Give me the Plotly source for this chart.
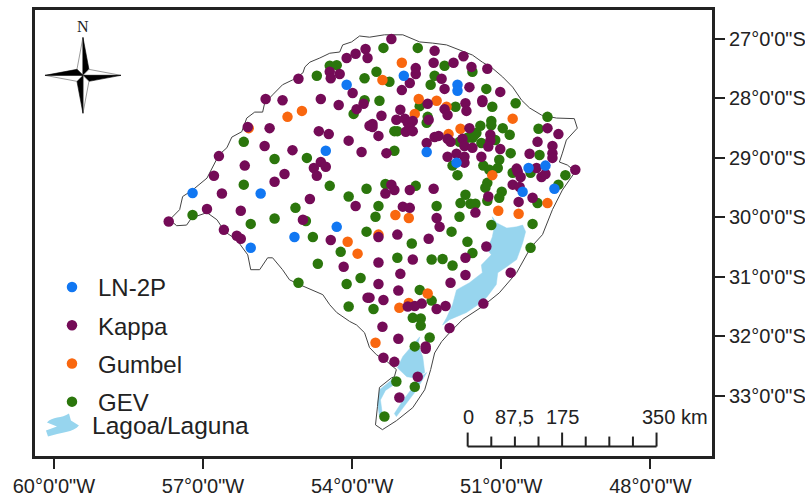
import plotly.graph_objects as go

# --- station values (longitude, latitude in decimal degrees) ---
lnp_lon = [-54.11,-54.53,-52.96,-51.88,-51.88,-52.50,-51.90,-50.45,-50.11,-57.21,-55.84,-54.31,-55.16,-56.04,-50.57,-49.93]
lnp_lat = [-27.77,-28.88,-27.62,-27.77,-27.87,-28.90,-29.08,-29.17,-29.13,-29.59,-29.60,-30.16,-30.33,-30.51,-29.57,-29.52]

gumbel_lon = [-56.08,-55.30,-55.01,-53.00,-53.39,-52.66,-52.30,-52.10,-52.74,-51.82,-52.06,-50.77,-54.09,-53.89,-53.13,-52.86,-51.18,-51.06,-50.65,-50.07,-52.48,-53.47,-53.05,-52.86,-53.53]
gumbel_lat = [-28.50,-28.31,-28.21,-27.40,-27.69,-28.01,-28.04,-28.14,-28.26,-28.51,-28.60,-28.34,-30.41,-30.61,-29.96,-30.01,-29.29,-29.89,-29.94,-29.76,-31.28,-30.29,-31.52,-31.44,-32.11]

gev_lon = [-56.18,-55.56,-54.91,-54.71,-54.45,-54.31,-53.75,-53.75,-53.97,-53.37,-52.68,-52.14,-51.58,-53.51,-53.25,-52.34,-52.42,-51.30,-53.45,-52.64,-51.92,-51.18,-50.71,-50.07,-50.25,-51.20,-51.20,-52.48,-52.50,-53.15,-53.09,-51.42,-51.50,-51.58,-51.84,-51.40,-51.12,-50.97,-50.83,-50.81,-50.23,-53.15,-51.04,-51.98,-51.36,-51.07,-51.24,-51.68,-51.54,
           -56.18,-54.45,-54.07,-53.71,-57.21,-56.04,-55.56,-55.14,-54.79,-54.23,-53.71,-54.69,-53.83,-54.11,-55.08,-54.07,-54.93,-53.33,-52.72,-53.47,-53.53,-52.30,-52.80,-53.09,-52.40,-52.18,-51.98,-52.00,-51.84,-51.72,-51.82,-51.62,-51.52,-51.68,-51.58,-51.20,-52.64,-52.40,-53.57,-50.41,-50.37,-50.27,-49.85,-49.71,-51.88,-51.28,-51.32,-50.99,-51.04,-51.28,-50.41,-50.77,-52.78,-52.62,-52.62,-52.44,-52.74,-53.11,-52.74,-53.35]
gev_lat = [-28.73,-29.02,-29.00,-27.62,-27.45,-27.44,-27.66,-28.03,-28.26,-27.15,-27.15,-27.45,-27.55,-27.55,-27.72,-27.62,-27.77,-27.84,-28.04,-28.13,-28.14,-28.14,-28.08,-28.31,-28.51,-28.38,-28.45,-28.31,-28.41,-28.55,-28.55,-28.46,-28.58,-28.66,-28.73,-28.75,-28.70,-28.50,-28.61,-28.92,-28.95,-28.88,-29.03,-29.13,-29.13,-29.17,-29.20,-28.66,-28.61,
           -29.45,-29.47,-29.65,-29.52,-29.96,-30.11,-30.02,-29.84,-30.33,-30.58,-30.24,-30.78,-31.02,-31.12,-31.10,-31.50,-30.06,-29.44,-29.47,-29.81,-29.99,-29.81,-30.44,-30.68,-30.71,-30.70,-30.81,-30.24,-29.99,-29.62,-29.76,-29.77,-29.77,-30.41,-30.60,-30.13,-31.22,-31.40,-31.54,-30.51,-30.11,-29.76,-29.45,-29.29,-29.29,-29.42,-29.50,-29.57,-29.67,-29.72,-29.25,-29.25,-31.69,-31.70,-31.82,-32.02,-32.17,-32.76,-32.85,-33.35]

kappa_lon = [-56.68,-56.10,-55.74,-55.40,-55.08,-55.66,-55.76,-55.20,-56.16,-54.63,-54.27,-54.67,-54.47,-54.07,-53.81,-54.11,-53.93,-53.73,-53.69,-54.45,-54.25,-54.43,-53.99,-53.91,-53.77,-53.65,-54.77,-54.63,-54.53,
             -53.21,-52.34,-52.36,-51.96,-51.76,-51.60,-51.28,-52.72,-52.72,-52.84,-53.00,-52.20,-52.14,-51.64,-51.02,-51.38,-51.38,-51.72,-51.70,-52.48,-52.14,-52.08,-53.03,-53.41,-53.11,-53.59,-53.59,-53.47,-52.94,-52.78,-52.88,-52.84,-52.92,-52.78,-52.46,-51.64,-52.50,-52.34,-52.26,-52.08,-52.02,-51.78,-51.74,-51.58,-51.22,-51.22,-51.26,-51.02,-50.43,-50.27,-50.07,-49.85,-49.97,-49.97,-49.97,-53.31,-52.08,-51.90,-51.74,-51.74,-51.40,-50.69,-50.29,-49.51,
             -56.78,-56.62,-56.92,-56.24,-57.69,-56.58,-56.32,-56.24,-55.56,-55.36,-54.71,-54.85,-53.93,-54.99,-54.43,-54.17,-53.69,
             -53.21,-53.15,-53.33,-52.84,-52.36,-52.98,-52.84,-51.52,-52.30,-52.24,-53.47,-53.09,-52.46,-51.30,-53.47,-52.78,-51.72,-53.03,-51.72,-50.81,-53.47,-53.07,-52.02,-53.65,-53.37,-51.36,-52.60,-52.74,-52.88,-52.30,-52.12,-51.26,-50.65,-50.37,-50.77,-50.63,-50.67,-50.61,-50.19,-50.11,
             -52.04,-53.39,-53.07,-52.52,-52.52,-53.37,-53.15,-52.68,-53.05]
kappa_lat = [-28.97,-28.48,-28.01,-28.03,-27.67,-28.50,-28.80,-28.87,-29.13,-28.01,-28.11,-28.55,-28.60,-28.71,-28.90,-27.32,-27.25,-27.17,-27.32,-27.55,-27.59,-27.66,-27.91,-28.18,-28.09,-28.46,-29.17,-29.07,-29.15,
             -27.00,-27.20,-27.40,-27.40,-27.29,-27.47,-27.50,-27.49,-27.59,-27.74,-27.86,-27.67,-27.84,-27.81,-27.89,-28.03,-28.06,-28.08,-28.21,-28.09,-28.18,-28.28,-28.19,-28.29,-28.36,-28.43,-28.48,-28.63,-28.34,-28.38,-28.41,-28.50,-28.56,-28.55,-28.36,-28.50,-28.75,-28.65,-28.63,-28.68,-28.73,-28.68,-28.80,-28.83,-28.61,-28.71,-28.81,-28.85,-28.93,-28.73,-28.50,-28.60,-28.80,-28.92,-29.00,-28.92,-28.98,-28.93,-28.98,-29.08,-28.98,-29.18,-29.17,-29.20,
             -29.30,-29.60,-29.86,-29.89,-30.07,-30.21,-30.31,-30.36,-29.40,-29.27,-29.30,-29.69,-29.81,-30.04,-30.38,-30.83,-31.35,
             -29.45,-29.54,-29.60,-29.54,-29.52,-29.82,-29.84,-29.92,-30.01,-30.16,-30.33,-30.29,-30.36,-30.49,-30.76,-30.71,-30.68,-30.95,-30.97,-30.93,-31.12,-31.23,-31.10,-31.35,-31.39,-31.45,-31.45,-31.49,-31.50,-31.54,-31.49,-29.65,-29.74,-29.67,-29.45,-29.49,-29.23,-29.32,-29.32,-29.27,
             -31.86,-31.84,-32.04,-32.17,-32.21,-32.36,-32.43,-32.68,-33.03]

border_lon = [-53.53,-53.39,-53.11,-52.78,-52.54,-52.42,-52.34,-52.20,-52.04,-51.78,-51.38,-51.04,-50.69,-50.41,-50.17,-49.97,-49.77,-49.59,-49.51,-49.67,-49.83,-49.77,-49.69,-49.47,-49.53,-49.89,-50.19,-50.43,-50.59,-50.77,-50.97,-51.18,-51.38,-51.58,-51.84,-52.10,-52.38,-52.64,-52.98,-53.19,-53.35,-53.65,-53.85,-54.01,-54.19,-54.25,-54.45,-54.65,-54.85,-54.95,-54.99,-55.20,-55.40,-55.60,-55.76,-55.80,-55.96,-56.12,-56.22,-56.42,-56.52,-56.68,-56.80,-56.92,-57.21,-57.41,-57.47,-57.67,-57.53,-57.33,-57.23,-56.92,-56.72,-56.56,-56.32,-56.10,-56.04,-55.86,-55.70,-55.60,-55.40,-55.26,-55.06,-54.79,-54.59,-54.45,-54.31,-54.05,-53.91,-53.75,-53.65,-53.51,-53.29,-53.11,-53.15,-53.21,-53.45,-53.49,-53.53]
border_lat = [-33.49,-33.57,-33.42,-33.20,-32.90,-32.56,-32.28,-32.09,-31.94,-31.72,-31.50,-31.27,-30.93,-30.51,-30.29,-29.87,-29.54,-29.32,-29.23,-29.12,-29.07,-28.92,-28.70,-28.50,-28.34,-28.33,-28.28,-28.16,-28.03,-27.81,-27.64,-27.49,-27.39,-27.27,-27.19,-27.10,-27.07,-27.05,-26.93,-26.93,-26.93,-26.97,-26.95,-27.05,-27.10,-27.22,-27.24,-27.32,-27.39,-27.47,-27.57,-27.69,-27.77,-27.94,-28.08,-28.23,-28.23,-28.33,-28.56,-28.65,-28.83,-28.95,-29.15,-29.34,-29.54,-29.65,-29.87,-30.04,-30.14,-30.13,-30.01,-29.92,-30.04,-30.24,-30.38,-30.63,-30.88,-30.88,-30.68,-30.68,-30.88,-31.05,-31.13,-31.23,-31.30,-31.47,-31.60,-31.75,-31.81,-31.94,-32.19,-32.31,-32.43,-32.56,-32.68,-32.70,-32.86,-33.18,-33.49]

patos_lon = [-51.18,-51.10,-50.89,-50.69,-50.57,-50.51,-50.57,-50.69,-50.89,-51.07,-51.10,-51.28,-51.38,-51.70,-52.04,-52.18,-52.10,-51.98,-51.90,-51.64,-51.38,-51.40,-51.20,-51.28,-51.18,-51.14,-51.18]
patos_lat = [-29.99,-30.09,-30.18,-30.16,-30.13,-30.24,-30.43,-30.71,-30.83,-30.93,-31.13,-31.33,-31.42,-31.60,-31.72,-31.81,-31.69,-31.47,-31.22,-31.10,-30.93,-30.80,-30.63,-30.54,-30.33,-30.16,-29.99]
mirim_lon = [-52.64,-52.98,-53.09,-52.90,-52.74,-52.54,-52.58,-52.68,-52.64]
mirim_lat = [-32.01,-32.34,-32.53,-32.68,-32.70,-32.61,-32.34,-32.14,-32.01]
band_lon = [-53.17,-53.45,-53.49,-53.45,-53.39,-53.43,-53.33,-53.13,-53.17]
band_lat = [-32.71,-32.90,-33.12,-33.35,-33.32,-33.07,-32.91,-32.80,-32.71]
mang_lon = [-53.11,-52.90,-52.70,-52.50,-52.58,-52.78,-52.98,-53.15,-53.11]
mang_lat = [-33.35,-33.12,-32.90,-32.61,-32.66,-32.86,-33.08,-33.30,-33.35]

x_ticks = [-60, -57, -54, -51, -48]
x_labels = ['60°0\'0"W', '57°0\'0"W', '54°0\'0"W', '51°0\'0"W', '48°0\'0"W']
y_ticks = [-27, -28, -29, -30, -31, -32, -33]
y_labels = ['27°0\'0"S', '28°0\'0"S', '29°0\'0"S', '30°0\'0"S', '31°0\'0"S', '32°0\'0"S', '33°0\'0"S']
scale_labels = ["0", "87,5", "175", "350 km"]

FONT = "Liberation Sans, Arial, sans-serif"
TXT = "#222222"
C_BLUE, C_KAPPA, C_ORANGE, C_GREEN, C_LAKE = "#1177F2", "#740B57", "#F9670F", "#2B760C", "#97D5EE"

# figure frame, in page pixels
L, R, T, B = 35, 712.5, 9.5, 456.5
def px(x): return (x - L) / (R - L)
def py(y): return 1 - (y - T) / (B - T)

fig = go.Figure()

lake_lon = patos_lon + [None] + mirim_lon + [None] + band_lon + [None] + mang_lon
lake_lat = patos_lat + [None] + mirim_lat + [None] + band_lat + [None] + mang_lat
fig.add_trace(go.Scatter(x=lake_lon, y=lake_lat, mode="lines", fill="toself", fillcolor=C_LAKE,
                         line=dict(color=C_LAKE, width=0.5), name="Lagoa/Laguna", showlegend=False, hoverinfo="skip"))
fig.add_trace(go.Scatter(x=border_lon, y=border_lat, mode="lines", line=dict(color="#444444", width=1),
                         showlegend=False, hoverinfo="skip", name="Limite"))

for name, lo, la, col, rank in [("GEV", gev_lon, gev_lat, C_GREEN, 4),
                                ("Gumbel", gumbel_lon, gumbel_lat, C_ORANGE, 3),
                                ("Kappa", kappa_lon, kappa_lat, C_KAPPA, 2),
                                ("LN-2P", lnp_lon, lnp_lat, C_BLUE, 1)]:
    fig.add_trace(go.Scatter(x=lo, y=la, mode="markers", name=name, legendgroup=name, legendrank=rank,
                             marker=dict(color=col, size=10.5, line=dict(width=0))))

shapes = []
def poly(points, fill, line="#555555", w=0.6):
    d = "M " + " L ".join(f"{px(a):.5f} {py(b):.5f}" for a, b in points) + " Z"
    shapes.append(dict(type="path", path=d, xref="paper", yref="paper", fillcolor=fill,
                       line=dict(color=line, width=w), layer="above"))

def seg(x0, y0, x1, y1, w=2, col="#222222"):
    shapes.append(dict(type="line", x0=px(x0), y0=py(y0), x1=px(x1), y1=py(y1), xref="paper", yref="paper",
                       line=dict(color=col, width=w), layer="above"))

# north arrow
cx, cy, r, q = 83, 75, 38, 6
poly([(cx, cy), (cx, cy - r), (cx - q, cy - q)], "white")
poly([(cx, cy), (cx, cy - r), (cx + q, cy - q)], "black", "black")
poly([(cx, cy), (cx + r, cy), (cx + q, cy - q)], "white")
poly([(cx, cy), (cx + r, cy), (cx + q, cy + q)], "black", "black")
poly([(cx, cy), (cx, cy + r), (cx + q, cy + q)], "white")
poly([(cx, cy), (cx, cy + r), (cx - q, cy + q)], "black", "black")
poly([(cx, cy), (cx - r, cy), (cx - q, cy + q)], "white")
poly([(cx, cy), (cx - r, cy), (cx - q, cy - q)], "black", "black")

# scale bar
seg(468, 447, 657, 447)
for i in range(9):
    xx = 468 + i * (657 - 468) / 8
    seg(xx, 433 if i in (0, 4, 8) else 437, xx, 447)

# lake legend swatch
d = (f"M {px(47):.4f} {py(423):.4f} C {px(52):.4f} {py(417):.4f} {px(62):.4f} {py(419):.4f} {px(69):.4f} {py(414):.4f} "
     f"L {px(71):.4f} {py(421):.4f} L {px(79):.4f} {py(426):.4f} C {px(74):.4f} {py(433):.4f} {px(60):.4f} {py(433):.4f} {px(48):.4f} {py(437):.4f} "
     f"L {px(46):.4f} {py(431):.4f} L {px(57):.4f} {py(427):.4f} Z")
shapes.append(dict(type="path", path=d, xref="paper", yref="paper", fillcolor=C_LAKE, line=dict(width=0)))

def note(text, x, y, size=20, anchor="center", family=FONT):
    return dict(text=text, x=px(x), y=py(y), xref="paper", yref="paper", showarrow=False, xanchor=anchor,
                yanchor="middle", font=dict(size=size, family=family, color=TXT))

annotations = [
    note("N", 83, 26, size=16, family="Liberation Serif, serif"),
    note("Lagoa/Laguna", 90, 426, size=24.5, anchor="left"),
    note(scale_labels[0], 469, 417),
    note(scale_labels[1], 515, 417),
    note(scale_labels[2], 563, 417),
    note(scale_labels[3], 640, 417, anchor="left"),
]

fig.update_layout(
    width=805, height=493, margin=dict(l=L, r=805 - R, t=T, b=493 - B, pad=0, autoexpand=False),
    paper_bgcolor="white", plot_bgcolor="white",
    font=dict(family=FONT, size=20, color=TXT),
    shapes=shapes, annotations=annotations,
    legend=dict(x=px(46), y=py(265), xanchor="left", yanchor="top", traceorder="grouped",
                font=dict(size=24, family=FONT, color=TXT), bgcolor="rgba(0,0,0,0)",
                itemwidth=42, tracegroupgap=4),
    xaxis=dict(range=[-60.38, -46.76], tickvals=x_ticks, ticktext=x_labels, showgrid=False, zeroline=False, automargin=False,
               showline=True, mirror=True, linecolor="#222222", linewidth=3, ticks="outside", ticklen=10,
               tickwidth=2, tickcolor="#222222", tickfont=dict(size=20, family=FONT, color=TXT), tickangle=0),
    yaxis=dict(range=[-34.013, -26.513], tickvals=y_ticks, ticktext=y_labels, side="right", showgrid=False, zeroline=False, automargin=False,
               showline=True, mirror=True, linecolor="#222222", linewidth=3, ticks="outside", ticklen=10,
               tickwidth=2, tickcolor="#222222", tickfont=dict(size=20, family=FONT, color=TXT)),
)

fig.write_html("out.html", config=dict(displayModeBar=False),
               post_script="document.body.style.margin='0';document.documentElement.style.overflow='hidden';")
